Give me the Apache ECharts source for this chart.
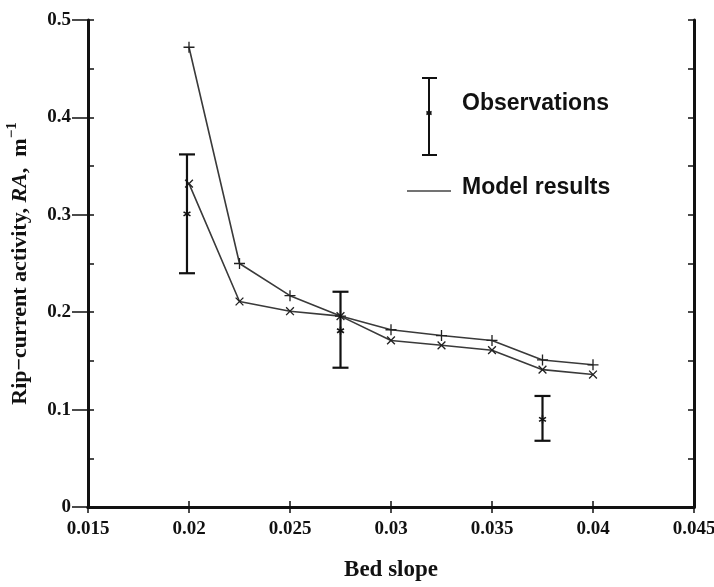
<!DOCTYPE html>
<html>
<head>
<meta charset="utf-8">
<script src="https://cdn.jsdelivr.net/npm/echarts@6/dist/echarts.min.js"></script>
<style>html,body{margin:0;padding:0;background:#fff;}#c{width:714px;height:587px;}</style>
</head>
<body>
<div id="c"></div>
<script>
// Data
var bedSlope = [0.02, 0.0225, 0.025, 0.0275, 0.03, 0.0325, 0.035, 0.0375, 0.04];
var modelUpper = [0.472, 0.250, 0.217, 0.196, 0.182, 0.176, 0.171, 0.151, 0.146];
var modelLower = [0.332, 0.211, 0.201, 0.196, 0.171, 0.166, 0.161, 0.141, 0.136];
var obsSlope = [0.0199, 0.0275, 0.0375];
var obsValue = [0.301, 0.181, 0.090];
var obsLow = [0.240, 0.143, 0.068];
var obsHigh = [0.362, 0.221, 0.114];
var xTickLabels = ['0.015', '0.02', '0.025', '0.03', '0.035', '0.04', '0.045'];
var yTickLabels = ['0', '0.1', '0.2', '0.3', '0.4', '0.5'];

var chart = echarts.init(document.getElementById('c'), null, {renderer: 'canvas'});
var serif = '"Liberation Serif", "Times New Roman", serif';
var sans = '"Liberation Sans", Arial, sans-serif';
var ink = '#111';

function pairs(xs, ys) { return xs.map(function (x, i) { return [x, ys[i]]; }); }
var obsData = obsSlope.map(function (x, i) { return [x, obsValue[i], obsLow[i], obsHigh[i]]; });

var plusPath = 'path://M0,4.4H10V5.6H0Z M4.4,0H5.6V10H4.4Z';

function asterisk(cx, cy, r) {
  var st = {stroke: ink, lineWidth: 1.6};
  var out = [];
  for (var k = 0; k < 3; k++) {
    var a = Math.PI / 2 + k * Math.PI / 3;
    out.push({type: 'line', shape: {x1: cx - r * Math.cos(a), y1: cy - r * Math.sin(a), x2: cx + r * Math.cos(a), y2: cy + r * Math.sin(a)}, style: st});
  }
  return out;
}

var baseX = {type: 'value', min: 0.015, max: 0.045, interval: 0.005, splitLine: {show: false}};
var baseY = {type: 'value', min: 0, max: 0.5, splitLine: {show: false}};

var option = {
  backgroundColor: '#fff',
  animation: false,
  grid: {left: 88, right: 20, top: 20, bottom: 80, containLabel: false, outerBoundsMode: 'none'},
  xAxis: [
    Object.assign({}, baseX, {
      position: 'bottom',
      name: 'Bed slope', nameLocation: 'middle', nameGap: 52,
      nameTextStyle: {fontFamily: serif, fontWeight: 'bold', fontSize: 23, color: ink},
      axisLine: {show: true, lineStyle: {color: ink, width: 3}},
      axisTick: {show: true, inside: false, length: 6, lineStyle: {color: ink, width: 1.5}},
      axisLabel: {show: true, margin: 13, fontFamily: serif, fontWeight: 'bold', fontSize: 19, color: ink,
        formatter: function (v) { return xTickLabels[Math.round((v - 0.015) / 0.005)]; }}
    }),
    Object.assign({}, baseX, {
      position: 'bottom',
      axisLine: {show: false},
      axisTick: {show: true, inside: true, length: 6, lineStyle: {color: ink, width: 1.5}},
      axisLabel: {show: false}
    }),
    Object.assign({}, baseX, {
      position: 'top',
      axisLine: {show: true, lineStyle: {color: ink, width: 3}},
      axisTick: {show: true, inside: true, length: 6, lineStyle: {color: ink, width: 1.5}},
      axisLabel: {show: false}
    })
  ],
  yAxis: [
    Object.assign({}, baseY, {
      position: 'left', interval: 0.1,
      name: '{a|Rip−current activity, }{i|RA}{a|,  m}{s|−1}',
      nameLocation: 'middle', nameGap: 57, nameRotate: 90,
      nameTextStyle: {
        color: ink,
        rich: {
          a: {fontFamily: serif, fontWeight: 'bold', fontSize: 22, color: ink, lineHeight: 26, verticalAlign: 'bottom'},
          i: {fontFamily: serif, fontWeight: 'bold', fontStyle: 'italic', fontSize: 22, color: ink, lineHeight: 26, verticalAlign: 'bottom'},
          s: {fontFamily: serif, fontWeight: 'bold', fontSize: 15, color: ink, lineHeight: 26, verticalAlign: 'top'}
        }
      },
      axisLine: {show: true, lineStyle: {color: ink, width: 3}},
      axisTick: {show: true, inside: false, length: 16, lineStyle: {color: ink, width: 1.5}},
      axisLabel: {show: true, margin: 17, fontFamily: serif, fontWeight: 'bold', fontSize: 19, color: ink,
        formatter: function (v) { return yTickLabels[Math.round(v / 0.1)]; }}
    }),
    Object.assign({}, baseY, {
      position: 'left', interval: 0.05,
      axisLine: {show: false},
      axisTick: {show: true, inside: true, length: 6, lineStyle: {color: ink, width: 1.5}},
      axisLabel: {show: false}
    }),
    Object.assign({}, baseY, {
      position: 'right', interval: 0.05,
      axisLine: {show: true, lineStyle: {color: ink, width: 3}},
      axisTick: {show: true, inside: true, length: 6, lineStyle: {color: ink, width: 1.5}},
      axisLabel: {show: false}
    })
  ],
  series: [
    {
      name: 'Model upper', type: 'line', xAxisIndex: 0, yAxisIndex: 0,
      data: pairs(bedSlope, modelUpper),
      symbol: plusPath, symbolSize: 11, showAllSymbol: true,
      lineStyle: {color: '#3a3a3a', width: 1.6},
      itemStyle: {color: '#222'}
    },
    {
      name: 'Model lower', type: 'line', xAxisIndex: 0, yAxisIndex: 0,
      data: pairs(bedSlope, modelLower),
      symbol: plusPath, symbolSize: 11, symbolRotate: 45, showAllSymbol: true,
      lineStyle: {color: '#3a3a3a', width: 1.6},
      itemStyle: {color: '#222'}
    },
    {
      name: 'Observations', type: 'custom', xAxisIndex: 0, yAxisIndex: 0,
      data: obsData,
      encode: {x: 0, y: [1, 2, 3]},
      renderItem: function (params, api) {
        var x = api.value(0);
        var c = api.coord([x, api.value(1)]);
        var lo = api.coord([x, api.value(2)]);
        var hi = api.coord([x, api.value(3)]);
        var w = 8;
        var st = {stroke: ink, lineWidth: 2.2};
        var ch = [
          {type: 'line', shape: {x1: hi[0], y1: hi[1], x2: lo[0], y2: lo[1]}, style: st},
          {type: 'line', shape: {x1: hi[0] - w, y1: hi[1], x2: hi[0] + w, y2: hi[1]}, style: st},
          {type: 'line', shape: {x1: lo[0] - w, y1: lo[1], x2: lo[0] + w, y2: lo[1]}, style: st}
        ].concat(asterisk(c[0], c[1], 4));
        return {type: 'group', children: ch};
      },
      z: 5
    }
  ],
  graphic: [
    {type: 'line', shape: {x1: 429, y1: 78, x2: 429, y2: 155}, style: {stroke: ink, lineWidth: 2}},
    {type: 'line', shape: {x1: 422, y1: 78, x2: 437, y2: 78}, style: {stroke: ink, lineWidth: 2}},
    {type: 'line', shape: {x1: 422, y1: 155, x2: 437, y2: 155}, style: {stroke: ink, lineWidth: 2}},
    {type: 'group', children: asterisk(429, 113, 3)},
    {type: 'text', left: 462, top: 92, style: {text: 'Observations', font: 'bold 23px ' + sans, fill: ink}},
    {type: 'line', shape: {x1: 407, y1: 191, x2: 451, y2: 191}, style: {stroke: '#444', lineWidth: 1.5}},
    {type: 'text', left: 462, top: 176, style: {text: 'Model results', font: 'bold 23px ' + sans, fill: ink}}
  ]
};
chart.setOption(option);
</script>
</body>
</html>
